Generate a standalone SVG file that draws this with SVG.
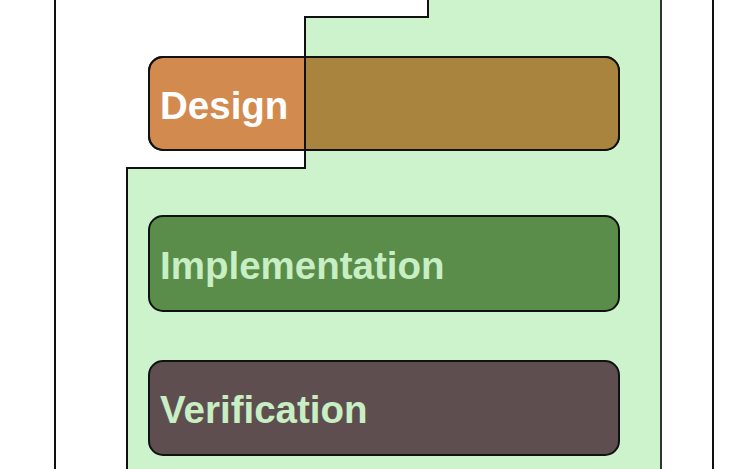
<svg xmlns="http://www.w3.org/2000/svg" width="750" height="469" viewBox="0 0 750 469">
<style>
.box{stroke:#111;stroke-width:2}
.lbl{font-family:"Liberation Sans",Arial,sans-serif;font-weight:bold;font-size:38.5px}
</style>
<defs>
<clipPath id="greenClip"><polygon points="428,-5 428,17 305,17 305,168 127,168 127,475 661,475 661,-5"/></clipPath>
</defs>
<rect width="750" height="469" fill="#fff"/>
<g id="frame"><rect x="55" y="-10" width="658" height="490" fill="none" stroke="#111" stroke-width="2"/></g>
<g id="region"><polygon points="428,-5 428,17 305,17 305,168 127,168 127,475 661,475 661,-5" fill="#cdf3cd"/></g>
<g id="design">
<rect class="box" x="149" y="57" width="470" height="93" rx="14" fill="#d38a4f"/>
<rect x="149" y="57" width="470" height="93" rx="14" fill="#a9843f" clip-path="url(#greenClip)"/>
<rect x="149" y="57" width="470" height="93" rx="14" fill="none" stroke="#111" stroke-width="2"/>
<text class="lbl" x="160" y="119" fill="#ffffff">Design</text>
</g>
<g id="implementation">
<rect class="box" x="149" y="216" width="470" height="95" rx="14" fill="#5a8c4a"/>
<text class="lbl" x="160" y="279" fill="#c8eec4">Implementation</text>
</g>
<g id="verification">
<rect class="box" x="149" y="361" width="470" height="94" rx="14" fill="#5f4e4f"/>
<text class="lbl" x="160" y="423" fill="#c8eec4">Verification</text>
</g>
<g id="connectors"><polyline points="428,-5 428,17 305,17 305,168 127,168 127,475" fill="none" stroke="#111" stroke-width="2"/><line x1="661" y1="-5" x2="661" y2="475" stroke="#333" stroke-width="2"/></g>
</svg>
